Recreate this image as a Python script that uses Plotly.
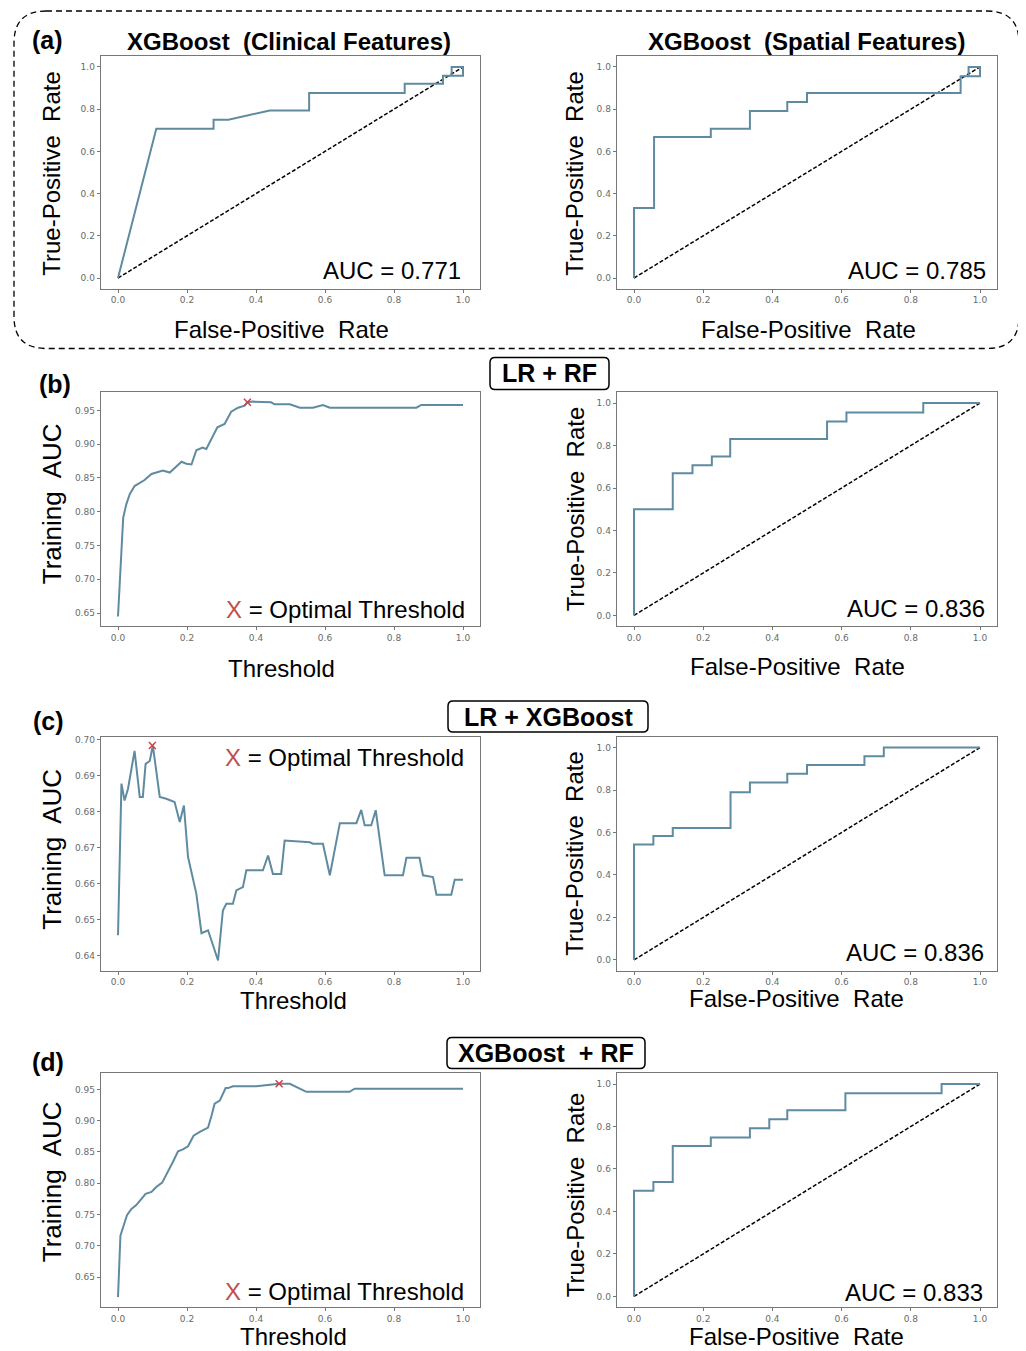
import plotly.graph_objects as go

W, H = 1026, 1351
OFF = 8  # default page body margin
FW, FH = W - OFF, H - OFF

# ---------------- DATA ----------------
# (a) XGBoost clinical ROC
a1_fpr = [0.0, 0.111, 0.277, 0.277, 0.32, 0.44, 0.554, 0.554, 0.831, 0.831, 0.942, 0.942, 1.0, 1.0, 0.967, 0.967]
a1_tpr = [0.0, 0.707, 0.707, 0.75, 0.75, 0.794, 0.794, 0.877, 0.877, 0.92, 0.92, 0.958, 0.958, 1.0, 1.0, 0.958]
a1_auc = "0.771"
# (a) XGBoost spatial ROC
a2_fpr = [0.0, 0.0, 0.058, 0.058, 0.222, 0.222, 0.335, 0.335, 0.443, 0.443, 0.50, 0.50, 0.944, 0.944, 1.0, 1.0, 0.967, 0.967]
a2_tpr = [0.0, 0.332, 0.332, 0.668, 0.668, 0.707, 0.707, 0.791, 0.791, 0.834, 0.834, 0.877, 0.877, 0.956, 0.956, 1.0, 1.0, 0.956]
a2_auc = "0.785"

# (b) LR + RF training AUC vs threshold
b_thr = [0.0, 0.007, 0.015, 0.024, 0.034, 0.048, 0.063, 0.077, 0.097, 0.111, 0.130, 0.150, 0.164, 0.184, 0.198,
         0.213, 0.227, 0.245, 0.256, 0.270, 0.288, 0.309, 0.328, 0.348, 0.367, 0.375, 0.391, 0.444, 0.454, 0.498,
         0.527, 0.565, 0.594, 0.614, 0.691, 0.865, 0.879, 1.0]
b_auc = [0.645, 0.712, 0.791, 0.811, 0.826, 0.838, 0.843, 0.847, 0.856, 0.858, 0.861, 0.858, 0.864, 0.874, 0.871,
         0.870, 0.891, 0.895, 0.893, 0.907, 0.925, 0.930, 0.948, 0.954, 0.957, 0.962, 0.963, 0.962, 0.959, 0.959,
         0.954, 0.954, 0.958, 0.954, 0.954, 0.954, 0.958, 0.958]
b_opt = (0.375, 0.962)
b_fpr = [0.0, 0.0, 0.112, 0.112, 0.169, 0.169, 0.225, 0.225, 0.278, 0.278, 0.558, 0.558, 0.614, 0.614, 0.836, 0.836, 1.0]
b_tpr = [0.0, 0.5, 0.5, 0.669, 0.669, 0.707, 0.707, 0.748, 0.748, 0.831, 0.831, 0.913, 0.913, 0.956, 0.956, 1.0, 1.0]
b_roc_auc = "0.836"

# (c) LR + XGBoost
c_thr = [0.0, 0.010, 0.019, 0.029, 0.048, 0.063, 0.072, 0.080, 0.092, 0.101, 0.121, 0.140, 0.164, 0.179, 0.191,
         0.203, 0.227, 0.242, 0.261, 0.290, 0.304, 0.314, 0.333, 0.343, 0.362, 0.372, 0.420, 0.435, 0.449, 0.473,
         0.483, 0.556, 0.565, 0.594, 0.614, 0.643, 0.691, 0.705, 0.715, 0.734, 0.747, 0.773, 0.826, 0.836, 0.874,
         0.884, 0.913, 0.923, 0.966, 0.976, 1.0]
c_auc = [0.6456, 0.6878, 0.6831, 0.6864, 0.6969, 0.6841, 0.6841, 0.6933, 0.6941, 0.6984, 0.6841, 0.6836, 0.6827,
         0.6771, 0.6817, 0.6674, 0.6572, 0.6462, 0.6470, 0.6386, 0.6525, 0.6544, 0.6544, 0.6581, 0.6590, 0.6637,
         0.6637, 0.6678, 0.6627, 0.6627, 0.6720, 0.6715, 0.6711, 0.6711, 0.6623, 0.6768, 0.6768, 0.6805, 0.6762,
         0.6762, 0.6804, 0.6623, 0.6623, 0.6672, 0.6672, 0.6623, 0.6618, 0.6569, 0.6569, 0.6611, 0.6611]
c_opt = (0.0995, 0.6984)
c_fpr = [0.0, 0.0, 0.056, 0.056, 0.112, 0.112, 0.279, 0.279, 0.335, 0.335, 0.443, 0.443, 0.5, 0.5, 0.666, 0.666, 0.722, 0.722, 1.0]
c_tpr = [0.0, 0.543, 0.543, 0.584, 0.584, 0.621, 0.621, 0.789, 0.789, 0.836, 0.836, 0.877, 0.877, 0.918, 0.918, 0.959, 0.959, 1.0, 1.0]
c_roc_auc = "0.836"

# (d) XGBoost + RF
d_thr = [0.0, 0.007, 0.015, 0.026, 0.039, 0.053, 0.068, 0.080, 0.097, 0.111, 0.128, 0.145, 0.159, 0.174, 0.188,
         0.203, 0.219, 0.237, 0.261, 0.271, 0.280, 0.295, 0.312, 0.319, 0.333, 0.401, 0.467, 0.498, 0.522, 0.546,
         0.671, 0.686, 1.0]
d_auc = [0.618, 0.716, 0.730, 0.749, 0.759, 0.765, 0.775, 0.783, 0.786, 0.794, 0.801, 0.818, 0.834, 0.851, 0.854,
         0.859, 0.876, 0.882, 0.889, 0.908, 0.927, 0.932, 0.952, 0.952, 0.955, 0.955, 0.959, 0.959, 0.953, 0.946,
         0.946, 0.951, 0.951]
d_opt = (0.467, 0.959)
d_fpr = [0.0, 0.0, 0.056, 0.056, 0.112, 0.112, 0.222, 0.222, 0.335, 0.335, 0.391, 0.391, 0.443, 0.443, 0.611, 0.611, 0.889, 0.889, 1.0]
d_tpr = [0.0, 0.497, 0.497, 0.539, 0.539, 0.708, 0.708, 0.748, 0.748, 0.792, 0.792, 0.834, 0.834, 0.877, 0.877, 0.957, 0.957, 1.0, 1.0]
d_roc_auc = "0.833"

x_ticks = [0.0, 0.2, 0.4, 0.6, 0.8, 1.0]
x_tick_text = ["0.0", "0.2", "0.4", "0.6", "0.8", "1.0"]
auc_ticks_bd = [0.65, 0.70, 0.75, 0.80, 0.85, 0.90, 0.95]
auc_ticks_c = [0.64, 0.65, 0.66, 0.67, 0.68, 0.69, 0.70]

# ---------------- LAYOUT HELPERS ----------------
def fx(px):
    return (px - OFF) / FW

def fy(py):
    return 1 - (py - OFF) / FH

LINE = "#5f8ba0"
FONT = "Liberation Sans, Arial, sans-serif"
TICKFONT = dict(family="DejaVu Sans, sans-serif", size=9, color="#6a6a6a")

colL = (100.75, 480.25)
colR = (616.7, 997.3)
rows = {"a": (54.5, 287), "b": (391, 625), "c": (736, 970), "d": (1073, 1307)}

fig = go.Figure()
layout = dict(width=FW, height=FH, margin=dict(l=0, r=0, t=0, b=0),
              paper_bgcolor="white", plot_bgcolor="white", showlegend=False)

panels = [
    ("a1", colL, "a", [-0.05, 1.05], x_ticks, x_tick_text),
    ("a2", colR, "a", [-0.05, 1.05], x_ticks, x_tick_text),
    ("b1", colL, "b", [0.6308, 0.9766], auc_ticks_bd, [f"{v:.2f}" for v in auc_ticks_bd]),
    ("b2", colR, "b", [-0.05, 1.05], x_ticks, x_tick_text),
    ("c1", colL, "c", [0.6358, 0.7008], auc_ticks_c, [f"{v:.2f}" for v in auc_ticks_c]),
    ("c2", colR, "c", [-0.05, 1.05], x_ticks, x_tick_text),
    ("d1", colL, "d", [0.6021, 0.9755], auc_ticks_bd, [f"{v:.2f}" for v in auc_ticks_bd]),
    ("d2", colR, "d", [-0.05, 1.05], x_ticks, x_tick_text),
]

axref = {}
for i, (name, col, row, yr, yt, ytt) in enumerate(panels):
    n = i + 1
    sx = "" if n == 1 else str(n)
    axref[name] = ("x" + sx, "y" + sx)
    top, bot = rows[row]
    common = dict(showgrid=False, zeroline=False, showline=True, linecolor="#777777", linewidth=1,
                  mirror=True, ticks="outside", ticklen=3, tickcolor="#777777", tickfont=TICKFONT)
    layout["xaxis" + sx] = dict(domain=[fx(col[0]), fx(col[1])], range=[-0.05, 1.05],
                                anchor="y" + sx, tickvals=x_ticks, ticktext=x_tick_text, **common)
    layout["yaxis" + sx] = dict(domain=[fy(bot), fy(top)], range=yr, anchor="x" + sx,
                                tickvals=yt, ticktext=ytt, **common)

fig.update_layout(**layout)

def roc(name, fpr, tpr):
    xa, ya = axref[name]
    fig.add_trace(go.Scatter(x=[0, 1], y=[0, 1], mode="lines", xaxis=xa, yaxis=ya,
                             line=dict(color="black", width=1.5, dash="4px,2px")))
    fig.add_trace(go.Scatter(x=fpr, y=tpr, mode="lines", xaxis=xa, yaxis=ya,
                             line=dict(color=LINE, width=2)))

def curve(name, thr, auc, opt):
    xa, ya = axref[name]
    fig.add_trace(go.Scatter(x=thr, y=auc, mode="lines", xaxis=xa, yaxis=ya,
                             line=dict(color=LINE, width=2)))
    fig.add_trace(go.Scatter(x=[opt[0]], y=[opt[1]], mode="markers", xaxis=xa, yaxis=ya,
                             marker=dict(symbol="x-thin", size=7, line=dict(color="#d0404a", width=1.5))))

roc("a1", a1_fpr, a1_tpr)
roc("a2", a2_fpr, a2_tpr)
curve("b1", b_thr, b_auc, b_opt)
roc("b2", b_fpr, b_tpr)
curve("c1", c_thr, c_auc, c_opt)
roc("c2", c_fpr, c_tpr)
curve("d1", d_thr, d_auc, d_opt)
roc("d2", d_fpr, d_tpr)

ann = []
def text(px, py, s, size=24, bold=False, xanchor="center", yanchor="middle", angle=0, family=FONT, color="black"):
    if bold:
        s = "<b>" + s + "</b>"
    ann.append(dict(x=fx(px), y=fy(py), xref="paper", yref="paper", text=s, showarrow=False,
                    xanchor=xanchor, yanchor=yanchor, textangle=angle,
                    font=dict(family=family, size=size, color=color)))

# panel letters
text(47, 38, "(a)", size=25, bold=True)
text(55, 383, "(b)", size=25, bold=True)
text(48, 720, "(c)", size=25, bold=True)
text(48, 1062, "(d)", size=25, bold=True)

# headers
text(289, 40, "XGBoost  (Clinical Features)", size=24, bold=True)
text(806, 40, "XGBoost  (Spatial Features)", size=24, bold=True)
text(549, 372, "LR + RF", size=25, bold=True)
text(548, 716, "LR + XGBoost", size=25, bold=True)
text(546, 1053, "XGBoost  + RF", size=25, bold=True)

# axis titles
tpr_title = "True-Positive  Rate"
fpr_title = "False-Positive  Rate"
text(52, 172, tpr_title, angle=-90)
text(575, 172, tpr_title, angle=-90)
text(281, 328, fpr_title)
text(808, 328, fpr_title)

text(52, 503, "Training  AUC", size=26, angle=-90)
text(575, 508, tpr_title, angle=-90)
text(281, 667, "Threshold")
text(797, 665, fpr_title)

text(52, 849, "Training  AUC", size=26, angle=-90)
text(575, 853, tpr_title, angle=-90)
text(293, 1000, "Threshold")
text(796, 998, fpr_title)

text(52, 1182, "Training  AUC", size=26, angle=-90)
text(575, 1195, tpr_title, angle=-90)
text(293, 1336, "Threshold")
text(796, 1336, fpr_title)

# AUC labels
text(463, 269, "AUC = " + a1_auc, xanchor="right")
text(988, 269, "AUC = " + a2_auc, xanchor="right")
text(987, 607, "AUC = " + b_roc_auc, xanchor="right")
text(986, 952, "AUC = " + c_roc_auc, xanchor="right")
text(985, 1292, "AUC = " + d_roc_auc, xanchor="right")

opt_label = "<span style='color:#c0504d'>X</span> = Optimal Threshold"
text(467, 608, opt_label, xanchor="right")
text(466, 757, opt_label, xanchor="right")
text(466, 1291, opt_label, xanchor="right")

fig.update_layout(annotations=ann)

def rounded(x0, y0, x1, y1, r):
    X0, X1 = fx(x0), fx(x1)
    Y0, Y1 = fy(y0), fy(y1)  # Y0 top (larger)
    rx, ry = r / FW, r / FH
    return (f"M {X0+rx},{Y0} L {X1-rx},{Y0} Q {X1},{Y0} {X1},{Y0-ry} "
            f"L {X1},{Y1+ry} Q {X1},{Y1} {X1-rx},{Y1} L {X0+rx},{Y1} "
            f"Q {X0},{Y1} {X0},{Y1+ry} L {X0},{Y0-ry} Q {X0},{Y0} {X0+rx},{Y0} Z")

shapes = [
    dict(type="path", xref="paper", yref="paper", path=rounded(14, 9, 1019, 347, 32),
         line=dict(color="black", width=1.3, dash="6px,4px")),
    dict(type="path", xref="paper", yref="paper", path=rounded(490, 356, 609, 388, 5),
         line=dict(color="black", width=1.5)),
    dict(type="path", xref="paper", yref="paper", path=rounded(448, 700, 648, 731, 5),
         line=dict(color="black", width=1.5)),
    dict(type="path", xref="paper", yref="paper", path=rounded(447, 1037, 645, 1068, 5),
         line=dict(color="black", width=1.5)),
]
fig.update_layout(shapes=shapes)

fig.write_html("out.html")
